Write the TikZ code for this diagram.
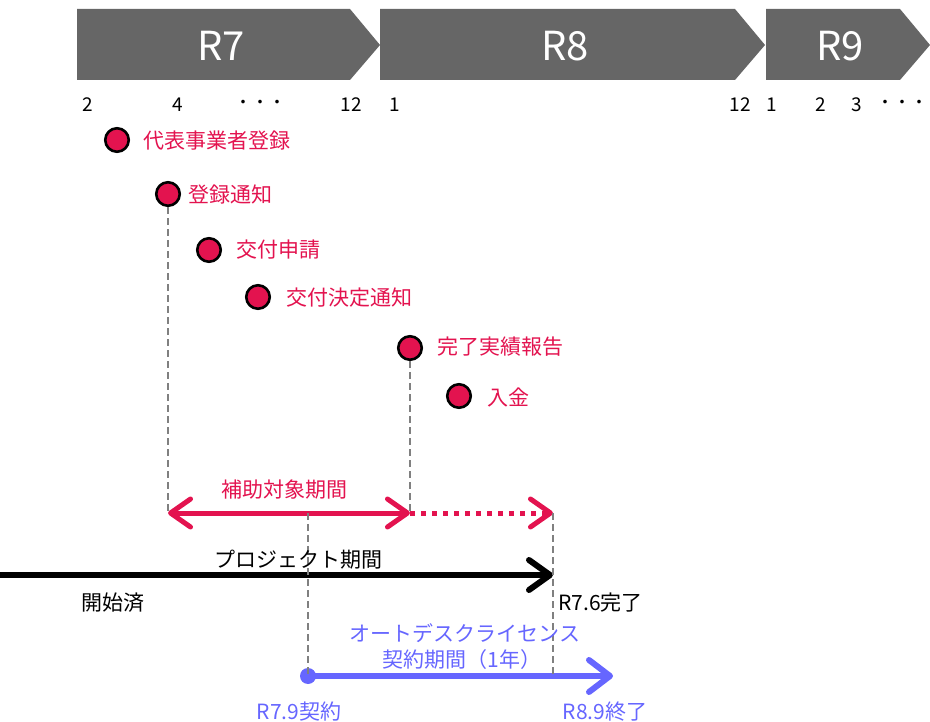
\documentclass[tikz,border=0pt]{standalone}
\usepackage{fontspec}
\setmainfont{Noto Sans CJK JP}
\usetikzlibrary{arrows.meta}
\definecolor{pinkc}{HTML}{E3134F}
\definecolor{bluec}{HTML}{6666FF}
\definecolor{bannerc}{HTML}{666666}
\definecolor{dashc}{HTML}{808080}
\begin{document}
\begin{tikzpicture}[x=1pt,y=-1pt,
  every node/.style={inner sep=0pt, font=\fontsize{21}{24}\selectfont},
  banner/.style={fill=bannerc},
  bannertext/.style={text=white, font=\fontsize{40}{44}\selectfont},
  month/.style={font=\fontsize{19}{22}\selectfont},
  dots/.style={font=\fontsize{17}{20}\selectfont},
  evt/.style={circle, fill=pinkc, draw=black, line width=2.6pt, minimum size=23.5pt},
  evtlabel/.style={text=pinkc, anchor=west},
  guide/.style={draw=dashc, line width=2pt, dash pattern=on 7pt off 4pt},
  pinkarrow/.style={draw=pinkc, line width=5pt, line join=round,
    arrows={Straight Barb[length=20pt,width=28pt,line cap=round,line join=round]-Straight Barb[length=20pt,width=28pt,line cap=round,line join=round]}},
  pinkdots/.style={draw=pinkc, line width=5pt, dash pattern=on 5pt off 6pt,
    -{Straight Barb[length=20pt,width=28pt,line cap=round,line join=round]}},
  blackarrow/.style={draw=black, line width=6pt,
    -{Straight Barb[length=21pt,width=30pt,line cap=round,line join=round]}},
  bluearrow/.style={draw=bluec, line width=6pt,
    -{Straight Barb[length=21pt,width=32pt,line cap=round,line join=round]}},
  bluedot/.style={circle, fill=bluec, minimum size=16pt}
]
\useasboundingbox (0,0) rectangle (930,722);

% year banners
\fill[banner] (77,9) -- (350,9) -- (380,45) -- (350,80) -- (77,80) -- cycle;
\fill[banner] (380,9) -- (735,9) -- (765,45) -- (735,80) -- (380,80) -- cycle;
\fill[banner] (766,9) -- (900,9) -- (930,45) -- (900,80) -- (766,80) -- cycle;
\node[bannertext] (r7) at (221,46) {R7};
\node[bannertext] (r8) at (565,46) {R8};
\node[bannertext] (r9) at (840,46) {R9};

% months
\node[month] (m1) at (88,105) {2};
\node[month] (m2) at (178,105) {4};
\node[dots] (m3) at (260,104) {・・・};
\node[month] (m4) at (351,105) {12};
\node[month] (m5) at (395,105) {1};
\node[month] (m6) at (740,105) {12};
\node[month] (m7) at (772,105) {1};
\node[month] (m8) at (821,105) {2};
\node[month] (m9) at (857,105) {3};
\node[dots] (m10) at (902,104) {・・・};

% events
\node[evt] (e1) at (117,140) {};
\node[evt] (e2) at (168,194) {};
\node[evt] (e3) at (209,250) {};
\node[evt] (e4) at (258,297) {};
\node[evt] (e5) at (410,348) {};
\node[evt] (e6) at (459,396) {};
\node[evtlabel] (l1) at (143,141) {代表事業者登録};
\node[evtlabel] (l2) at (188,195) {登録通知};
\node[evtlabel] (l3) at (236,250) {交付申請};
\node[evtlabel] (l4) at (286,298) {交付決定通知};
\node[evtlabel] (l5) at (437,347) {完了実績報告};
\node[evtlabel] (l6) at (487,397) {入金};

% coordinates
\coordinate (pL) at (168,513);
\coordinate (pM) at (410,513);
\coordinate (pR) at (553,513);
\coordinate (bL) at (0,575);
\coordinate (bR) at (553,575);
\coordinate (gA) at (308,513);
\coordinate (gB) at (553,676);
\coordinate (uR) at (613,676);

% arrows
\draw[pinkarrow] (pL) -- (pM);
\draw[pinkdots] (pM) -- (pR);
\draw[blackarrow] (bL) -- (bR);
\node[bluedot] (ud) at (308,676) {};
\draw[bluearrow] (ud.center) -- (uR);

% guides
\draw[guide] (e2.south) -- (pL);
\draw[guide] (e5.south) -- (pM);
\draw[guide] (gA) -- (ud.center);
\draw[guide] (pR) -- (gB);

% texts
\node[text=pinkc] (t1) at (284,490) {補助対象期間};
\node (t2) at (298,560) {プロジェクト期間};
\node (t3) at (113,603) {開始済};
\node[anchor=west] (t4) at (558,603) {R7.6完了};
\node[text=bluec] (t5) at (465,633) {オートデスクライセンス};
\node[text=bluec] (t6) at (462,660) {契約期間（1年）};
\node[text=bluec] (t7) at (299,712) {R7.9契約};
\node[text=bluec] (t8) at (605,712) {R8.9終了};
\end{tikzpicture}
\end{document}
